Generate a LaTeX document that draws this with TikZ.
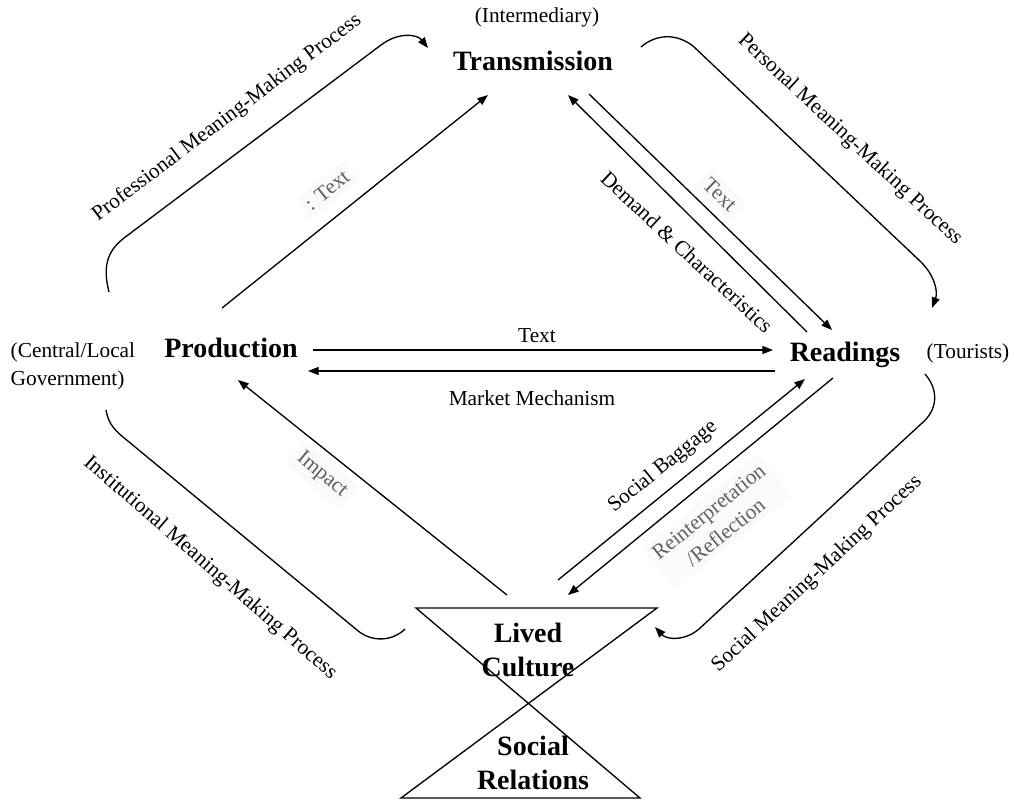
\documentclass[tikz,border=0pt]{standalone}
\usepackage{fontspec}
\setmainfont{Liberation Serif}
\usetikzlibrary{arrows.meta}

\tikzset{
  stage/.style={font=\fontsize{21}{25.5}\selectfont\bfseries, align=center},
  note/.style={font=\fontsize{16}{21}\selectfont},
  faint/.style={note, text=black!62, fill=black!2, inner sep=4pt},
  flow/.style={line width=1pt, -{Triangle[length=8pt,width=6pt]}},
  curveline/.style={line width=1pt},
}

\begin{document}
\begin{tikzpicture}[x=0.75pt,y=-0.75pt]
\useasboundingbox (0,0) rectangle (1014,801);

\node[note] (inter) at (537,17) {(Intermediary)};
\node[stage] (trans) at (533,61) {Transmission};
\node[stage] (prod) at (231,348) {Production};
\node[note,align=left,anchor=west] (gov) at (6,366) {(Central/Local\\Government)};
\node[stage] (read) at (845,355) {Readings};
\node[note] (tour) at (968,353) {(Tourists)};
\node[stage] (lived) at (528,650) {Lived\\Culture};
\node[stage] (social) at (533,763) {Social\\Relations};

\draw[line width=1pt] (416,608) -- (657,608) -- (401,798) -- (640,798) -- cycle;

\coordinate (prod-ne) at (222,308); \coordinate (trans-sw) at (488,95);
\coordinate (trans-s) at (568,95);  \coordinate (read-nw) at (807,332);
\coordinate (trans-se) at (589,94); \coordinate (read-n) at (832,330);
\coordinate (prod-e1) at (313,350); \coordinate (read-w1) at (773,350);
\coordinate (read-w2) at (775,371); \coordinate (prod-e2) at (308,371);
\coordinate (lived-nw) at (507,595); \coordinate (prod-s) at (238,380);
\coordinate (lived-n) at (558,580); \coordinate (read-sw) at (805,379);
\coordinate (read-s) at (833,378);  \coordinate (lived-ne) at (568,595);

\draw[flow] (prod-ne) -- (trans-sw);
\draw[flow] (read-nw) -- (trans-s);
\draw[flow] (trans-se) -- (read-n);
\draw[flow] (prod-e1) -- (read-w1);
\draw[flow] (read-w2) -- (prod-e2);
\draw[flow] (lived-nw) -- (prod-s);
\draw[flow] (lived-n) -- (read-sw);
\draw[flow] (read-s) -- (lived-ne);

\node[faint,rotate=38.7] (l-pt) at (327,190) {: Text};
\node[faint,rotate=-44] (l-tr) at (720,195) {Text};
\node[note,rotate=-43] (l-dc) at (687,252) {Demand \& Characteristics};
\node[note] (l-text) at (537,336) {Text};
\node[note] (l-mm) at (532,398) {Market Mechanism};
\node[faint,rotate=-40] (l-imp) at (322,475) {Impact};
\node[note,rotate=39] (l-sb) at (663,467) {Social Baggage};
\node[faint,rotate=39,align=center,font=\fontsize{16}{20}\selectfont] (l-rr) at (717,522) {Reinterpretation\\/Reflection};

\draw[curveline,-{Triangle[length=8pt,width=6pt]}] (109,292) .. controls (103,268) and (106,252) .. (124,238) -- (381,45) .. controls (398,32) and (417,34) .. (428,48);
\draw[curveline,-{Triangle[length=8pt,width=6pt]}] (641,47) .. controls (656,34) and (676,33) .. (693,46) -- (921,262) .. controls (935,276) and (938,292) .. (932,308);
\draw[curveline] (106,410) .. controls (108,421) and (112,428) .. (123,437) -- (357,630) .. controls (372,643) and (393,641) .. (405,629);
\draw[curveline,-{Triangle[length=8pt,width=6pt]}] (925,374) .. controls (939,390) and (938,410) .. (921,424) -- (699,629) .. controls (685,641) and (667,640) .. (655,627);

\node[note,rotate=37] (l-prof) at (227,118) {Professional Meaning-Making Process};
\node[note,rotate=-43] (l-pers) at (850,140) {Personal Meaning-Making Process};
\node[note,rotate=-41] (l-inst) at (210,568) {Institutional Meaning-Making Process};
\node[note,rotate=43] (l-soc) at (817,574) {Social Meaning-Making Process};
\end{tikzpicture}
\end{document}
